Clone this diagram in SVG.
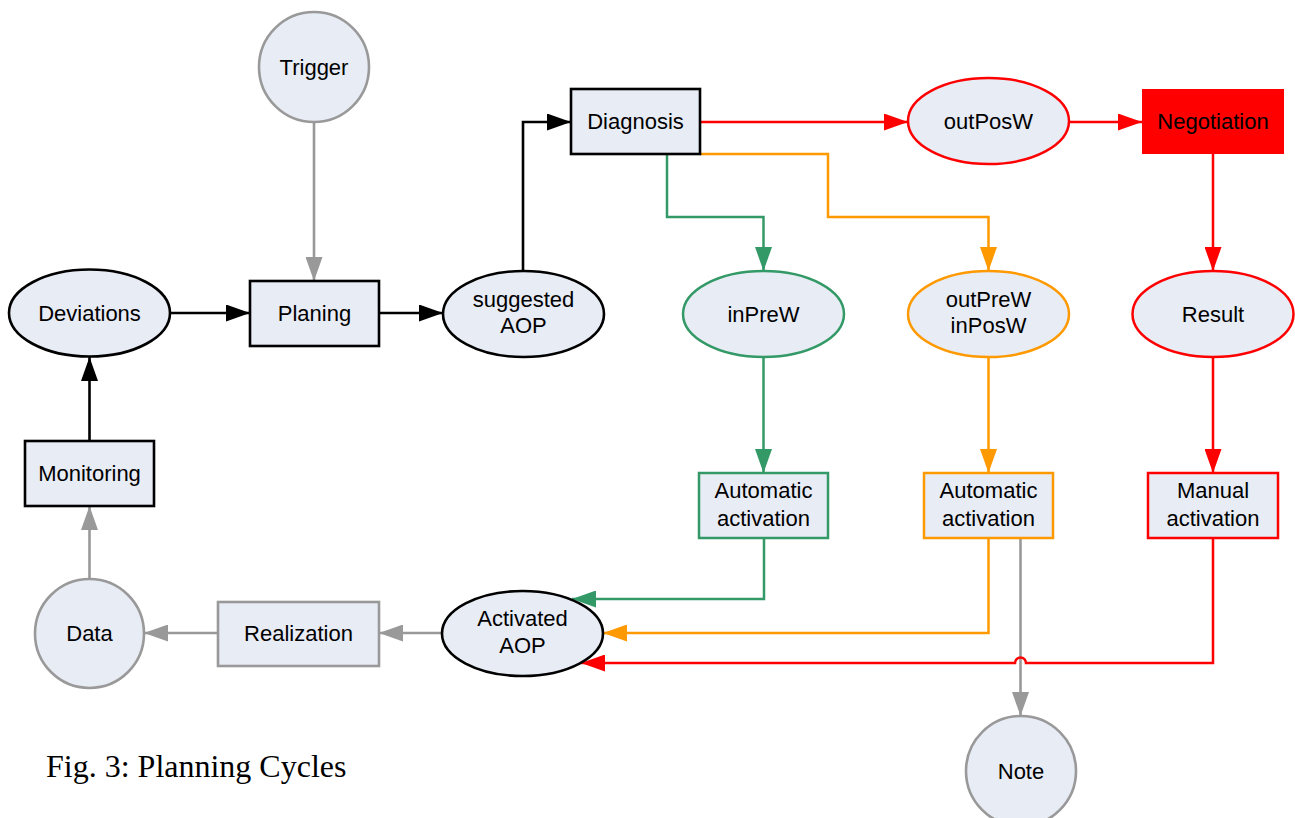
<svg xmlns="http://www.w3.org/2000/svg" width="1295" height="818" viewBox="0 0 1295 818">
<style>
.nd{fill:#E8ECF5}
.blk{stroke:#000;stroke-width:2.6}
.gry{stroke:#999;stroke-width:2.6}
.grn{stroke:#339966;stroke-width:2.5}
.org{stroke:#FF9900;stroke-width:2.5}
.red{stroke:#FF0000;stroke-width:2.5}
text{font-family:"Liberation Sans",Arial,sans-serif;font-size:22px;fill:#000;text-anchor:middle}
.cap{font-family:"Liberation Serif","Times New Roman",serif;font-size:32px;text-anchor:start}
#connectors path{fill:none}
</style>
<defs>
<marker id="aB" markerUnits="userSpaceOnUse" markerWidth="24" markerHeight="17" refX="24" refY="8.5" orient="auto"><path d="M0,0 L24,8.5 L0,17 z" fill="#000"/></marker>
<marker id="aG" markerUnits="userSpaceOnUse" markerWidth="24" markerHeight="17" refX="24" refY="8.5" orient="auto"><path d="M0,0 L24,8.5 L0,17 z" fill="#999"/></marker>
<marker id="aN" markerUnits="userSpaceOnUse" markerWidth="24" markerHeight="17" refX="24" refY="8.5" orient="auto"><path d="M0,0 L24,8.5 L0,17 z" fill="#339966"/></marker>
<marker id="aO" markerUnits="userSpaceOnUse" markerWidth="24" markerHeight="17" refX="24" refY="8.5" orient="auto"><path d="M0,0 L24,8.5 L0,17 z" fill="#FF9900"/></marker>
<marker id="aR" markerUnits="userSpaceOnUse" markerWidth="24" markerHeight="17" refX="24" refY="8.5" orient="auto"><path d="M0,0 L24,8.5 L0,17 z" fill="#FF0000"/></marker>
</defs>
<rect width="1295" height="818" fill="#fff"/>

<g id="connectors">
<path class="gry" d="M314,122 V281" marker-end="url(#aG)"/>
<path class="blk" d="M170,313 H250" marker-end="url(#aB)"/>
<path class="blk" d="M379,313 H443" marker-end="url(#aB)"/>
<path class="blk" d="M523,271 V122 H571" marker-end="url(#aB)"/>
<path class="red" d="M700,122 H908" marker-end="url(#aR)"/>
<path class="red" d="M1069,122 H1142" marker-end="url(#aR)"/>
<path class="red" d="M1213,154 V271" marker-end="url(#aR)"/>
<path class="grn" d="M667,154 V217 H763.5 V271" marker-end="url(#aN)"/>
<path class="org" d="M700,154 H828 V217 H988.5 V271" marker-end="url(#aO)"/>
<path class="grn" d="M763.5,357 V473" marker-end="url(#aN)"/>
<path class="org" d="M988.5,357 V473" marker-end="url(#aO)"/>
<path class="red" d="M1213,357 V473" marker-end="url(#aR)"/>
<path class="grn" d="M764,538 V599 H572" marker-end="url(#aN)"/>
<path class="org" d="M988.5,538 V633 H603" marker-end="url(#aO)"/>
<path class="gry" d="M1020.5,538 V716" marker-end="url(#aG)"/>
<path class="red" d="M1213,538 V663 H1026 A5.5,5.5 0 0 0 1015,663 H581" marker-end="url(#aR)"/>
<path class="gry" d="M442,633 H379" marker-end="url(#aG)"/>
<path class="gry" d="M218,633 H144" marker-end="url(#aG)"/>
<path class="gry" d="M89.5,579 V506" marker-end="url(#aG)"/>
<path class="blk" d="M89.5,441 V357" marker-end="url(#aB)"/>
</g>

<g id="trigger"><circle class="nd gry" cx="314" cy="67" r="55"/><text x="314" y="75">Trigger</text></g>
<g id="deviations"><ellipse class="nd blk" cx="89.5" cy="313" rx="80.5" ry="43.5"/><text x="89.5" y="321">Deviations</text></g>
<g id="planing"><rect class="nd blk" x="250" y="281" width="129" height="65"/><text x="314.5" y="321">Planing</text></g>
<g id="suggested-aop"><ellipse class="nd blk" cx="523.5" cy="314" rx="80.5" ry="43"/><text x="523.5" y="307">suggested</text><text x="523.5" y="333">AOP</text></g>
<g id="diagnosis"><rect class="nd blk" x="571" y="89" width="129" height="65"/><text x="635.5" y="129">Diagnosis</text></g>
<g id="outposw"><ellipse class="nd red" cx="988.5" cy="121" rx="80.5" ry="43"/><text x="988.5" y="129">outPosW</text></g>
<g id="negotiation"><rect x="1142" y="89" width="142" height="65" fill="#FF0000"/><text x="1213" y="129">Negotiation</text></g>
<g id="inprew"><ellipse class="nd grn" cx="763.5" cy="314" rx="80.5" ry="43"/><text x="763.5" y="322">inPreW</text></g>
<g id="outprew"><ellipse class="nd org" cx="988.5" cy="314" rx="80.5" ry="43"/><text x="988.5" y="307">outPreW</text><text x="988.5" y="333">inPosW</text></g>
<g id="result"><ellipse class="nd red" cx="1213" cy="314" rx="80.5" ry="43"/><text x="1213" y="322">Result</text></g>
<g id="auto-green"><rect class="nd grn" x="699" y="473" width="129" height="65"/><text x="763.5" y="498">Automatic</text><text x="763.5" y="526">activation</text></g>
<g id="auto-orange"><rect class="nd org" x="924" y="473" width="129" height="65"/><text x="988.5" y="498">Automatic</text><text x="988.5" y="526">activation</text></g>
<g id="manual"><rect class="nd red" x="1148" y="473" width="130" height="65"/><text x="1213" y="498">Manual</text><text x="1213" y="526">activation</text></g>
<g id="monitoring"><rect class="nd blk" x="25" y="441" width="129" height="65"/><text x="89.5" y="481">Monitoring</text></g>
<g id="data"><circle class="nd gry" cx="89.5" cy="633.5" r="54.5"/><text x="89.5" y="641">Data</text></g>
<g id="realization"><rect class="nd gry" x="218" y="602" width="161" height="64"/><text x="298.5" y="641">Realization</text></g>
<g id="activated-aop"><ellipse class="nd blk" cx="522.5" cy="633.5" rx="80.5" ry="42.5"/><text x="522.5" y="626">Activated</text><text x="522.5" y="653">AOP</text></g>
<g id="note"><circle class="nd gry" cx="1021" cy="771" r="55"/><text x="1021" y="779">Note</text></g>
<text class="cap" x="46" y="777">Fig. 3: Planning Cycles</text>
</svg>
